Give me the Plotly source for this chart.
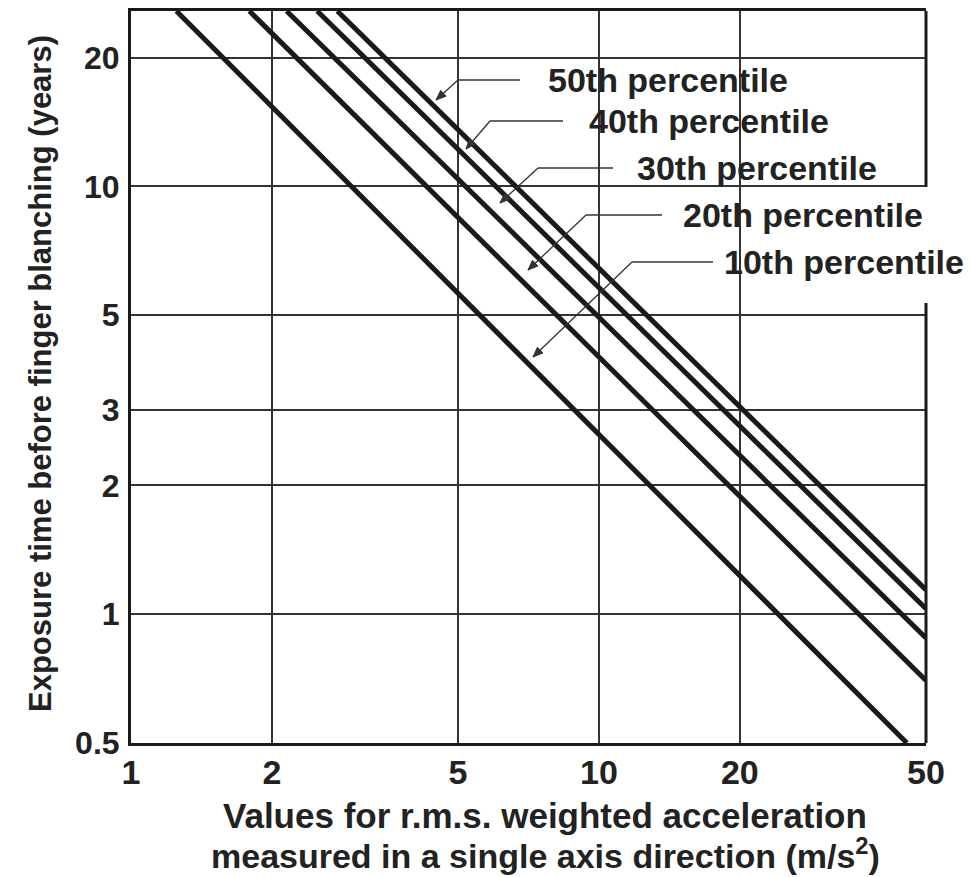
import math
import plotly.graph_objects as go

# ---------------- data ----------------
percentiles = ["10th percentile", "20th percentile", "30th percentile",
               "40th percentile", "50th percentile"]
# visible end points of each straight (log-log) line: [top-edge crossing, right/bottom end]
accel_10 = [1.25, 45.5]
years_10 = [25.7, 0.5]
accel_20 = [1.79, 50.0]
years_20 = [25.7, 0.70]
accel_30 = [2.15, 50.0]
years_30 = [25.7, 0.88]
accel_40 = [2.50, 50.0]
years_40 = [25.7, 1.03]
accel_50 = [2.76, 50.0]
years_50 = [25.7, 1.14]

x_ticks = [1, 2, 5, 10, 20, 50]
x_ticktext = ["1", "2", "5", "10", "20", "50"]
y_ticks = [0.5, 1, 2, 3, 5, 10, 20]
y_ticktext = ["0.5", "1", "2", "3", "5", "10", "20"]
x_range = [1, 50]
y_range = [0.5, 25.7]

# ---------------- layout geometry ----------------
OFF = 8                      # default page margin of the html body
W, H = 971 - OFF, 877 - OFF
L, T = 131 - OFF, 11 - OFF
PW, PH = 795, 732
R, B = W - L - PW, H - T - PH


def px(xp):                  # page pixel -> paper x
    return (xp - OFF - L) / PW


def py(yp):                  # page pixel -> paper y
    return (T + PH - (yp - OFF)) / PH


FONT = "Liberation Sans, Arial, Helvetica, sans-serif"
INK = "#1a1a1a"
LEAD = "#333"

fig = go.Figure()
for xs, ys, name in [(accel_10, years_10, percentiles[0]),
                     (accel_20, years_20, percentiles[1]),
                     (accel_30, years_30, percentiles[2]),
                     (accel_40, years_40, percentiles[3]),
                     (accel_50, years_50, percentiles[4])]:
    fig.add_trace(go.Scatter(x=xs, y=ys, mode="lines", name=name,
                             line=dict(color=INK, width=5),
                             showlegend=False, hoverinfo="skip"))

shapes = []
# white masks that interrupt the grid behind the labels
masks = [(496, 791, 43, 100), (575, 845, 100, 158), (633, 935, 150, 200),
         (675, 935, 200, 240), (715, 975, 240, 282), (915, 935, 282, 303)]
for x0, x1, y0, y1 in masks:
    shapes.append(dict(type="rect", xref="paper", yref="paper",
                       x0=px(x0), x1=px(x1), y0=py(y1), y1=py(y0),
                       fillcolor="white", line=dict(width=0), layer="between"))
# right border (interrupted)
for y0, y1 in [(743, 303), (187, 11)]:
    shapes.append(dict(type="line", xref="paper", yref="paper",
                       x0=1, x1=1, y0=py(y0), y1=py(y1),
                       line=dict(color=INK, width=3), layer="above"))

# label leaders: (elbow_x, elbow_y, horiz_end_x, tip_x, tip_y, text_x)
leaders = {
    "50th percentile": (458, 80, 520, 436, 100, 546),
    "40th percentile": (490, 121, 563, 466, 149, 587),
    "30th percentile": (538, 168, 613, 500, 203, 635),
    "20th percentile": (586, 215, 662, 528, 270, 681),
    "10th percentile": (632, 262, 713, 533, 357, 722),
}
annotations = []
HEAD_LEN, HEAD_HALF = 10, 4
for label, (ex, ey, hx, tx, ty, lx) in leaders.items():
    # horizontal leader
    shapes.append(dict(type="line", xref="paper", yref="paper",
                       x0=px(ex), x1=px(hx), y0=py(ey), y1=py(ey),
                       line=dict(color=LEAD, width=1.5), layer="above"))
    # diagonal leader
    shapes.append(dict(type="line", xref="paper", yref="paper",
                       x0=px(ex), x1=px(tx), y0=py(ey), y1=py(ty),
                       line=dict(color=LEAD, width=1.3), layer="above"))
    # arrowhead (filled triangle in page pixels)
    dx, dy = tx - ex, ty - ey
    d = math.hypot(dx, dy)
    ux, uy = dx / d, dy / d
    bx, by = tx - ux * HEAD_LEN, ty - uy * HEAD_LEN
    nx, ny = -uy, ux
    p1 = (bx + nx * HEAD_HALF, by + ny * HEAD_HALF)
    p2 = (bx - nx * HEAD_HALF, by - ny * HEAD_HALF)
    path = (f"M {px(tx)},{py(ty)} L {px(p1[0])},{py(p1[1])} "
            f"L {px(p2[0])},{py(p2[1])} Z")
    shapes.append(dict(type="path", xref="paper", yref="paper", path=path,
                       fillcolor=LEAD, line=dict(color=LEAD, width=1),
                       layer="above"))
    annotations.append(dict(xref="paper", yref="paper", x=px(lx), y=py(ey),
                            xanchor="left", yanchor="middle", text=label,
                            showarrow=False,
                            font=dict(family=FONT, size=34, color="#222",
                                      weight=700)))

# axis titles
annotations.append(dict(xref="paper", yref="paper", x=px(545), y=py(815),
                        xanchor="center", yanchor="middle",
                        text="Values for r.m.s. weighted acceleration",
                        showarrow=False,
                        font=dict(family=FONT, size=35, color="#222", weight=700)))
annotations.append(dict(xref="paper", yref="paper", x=px(545), y=py(854),
                        xanchor="center", yanchor="middle",
                        text="measured in a single axis direction (m/s<sup>2</sup>)",
                        showarrow=False,
                        font=dict(family=FONT, size=34, color="#222", weight=700)))
annotations.append(dict(xref="paper", yref="paper", x=px(40), y=py(374),
                        xanchor="center", yanchor="middle", textangle=-90,
                        text="Exposure time before finger blanching (years)",
                        showarrow=False,
                        font=dict(family=FONT, size=31, color="#222", weight=700)))

fig.update_layout(
    width=W, height=H,
    margin=dict(l=L, r=R, t=T, b=B, autoexpand=False),
    paper_bgcolor="white", plot_bgcolor="white",
    shapes=shapes, annotations=annotations,
    xaxis=dict(type="log", range=[math.log10(x_range[0]), math.log10(x_range[1])],
               tickvals=x_ticks, ticktext=x_ticktext, ticks="",
               ticklabelstandoff=-3,
               showgrid=True, gridcolor="#333", gridwidth=1.5,
               showline=True, linecolor=INK, linewidth=3, mirror=True,
               tickfont=dict(family=FONT, size=34, color="#222", weight=700),
               fixedrange=True),
    yaxis=dict(type="log", range=[math.log10(y_range[0]), math.log10(y_range[1])],
               tickvals=y_ticks, ticktext=y_ticktext, ticks="",
               ticklabelstandoff=2,
               showgrid=True, gridcolor="#333", gridwidth=1.5,
               showline=True, linecolor=INK, linewidth=3, mirror=False,
               tickfont=dict(family=FONT, size=32, color="#222", weight=700),
               fixedrange=True),
)

fig.write_html("out.html")
